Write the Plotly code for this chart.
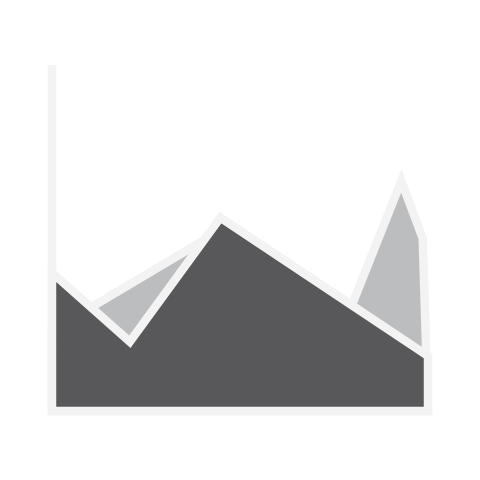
import plotly.graph_objects as go

back_x = [0, 44.8, 76, 92.9, 98.6, 100]
back_y = [23.2, 52.2, 20.3, 66.5, 49.9, 0]
front_x = [0, 20.7, 44.8, 100]
front_y = [40, 20.0, 55.9, 15.9]
axis_x = [0, 0]
axis_y = [0, 100]

STROKE = "#f3f3f3"
DARK = "#58585a"
LIGHT = "#bcbdbf"
WIDTH = 8.5


def closed(xs, ys):
    return [xs[0]] + xs + [xs[-1], xs[0], xs[0]], [0] + ys + [0, 0, ys[0]]


fig = go.Figure()
bx, by = closed(back_x, back_y)
fx, fy = closed(front_x, front_y)
fig.add_trace(go.Scatter(x=axis_x, y=axis_y, mode="lines",
                         line=dict(color=STROKE, width=WIDTH)))
fig.add_trace(go.Scatter(x=bx, y=by, mode="lines", fill="toself", fillcolor=LIGHT,
                         line=dict(color=STROKE, width=WIDTH)))
fig.add_trace(go.Scatter(x=fx, y=fy, mode="lines", fill="toself", fillcolor=DARK,
                         line=dict(color=STROKE, width=WIDTH)))

fig.update_layout(
    width=480, height=480, showlegend=False,
    paper_bgcolor="white", plot_bgcolor="white",
    margin=dict(l=40, r=40, t=55, b=59),
    hovermode=False,
)
fig.update_xaxes(range=[-3.19, 103.19], visible=False)
fig.update_yaxes(range=[-2.9, 102.9], visible=False)

post = """
var s=document.createElement('style');
s.textContent='path{stroke-miterlimit:10 !important;}body{margin:0;}';
document.head.appendChild(s);
"""
fig.write_html("out.html", post_script=post, config={"displayModeBar": False})
